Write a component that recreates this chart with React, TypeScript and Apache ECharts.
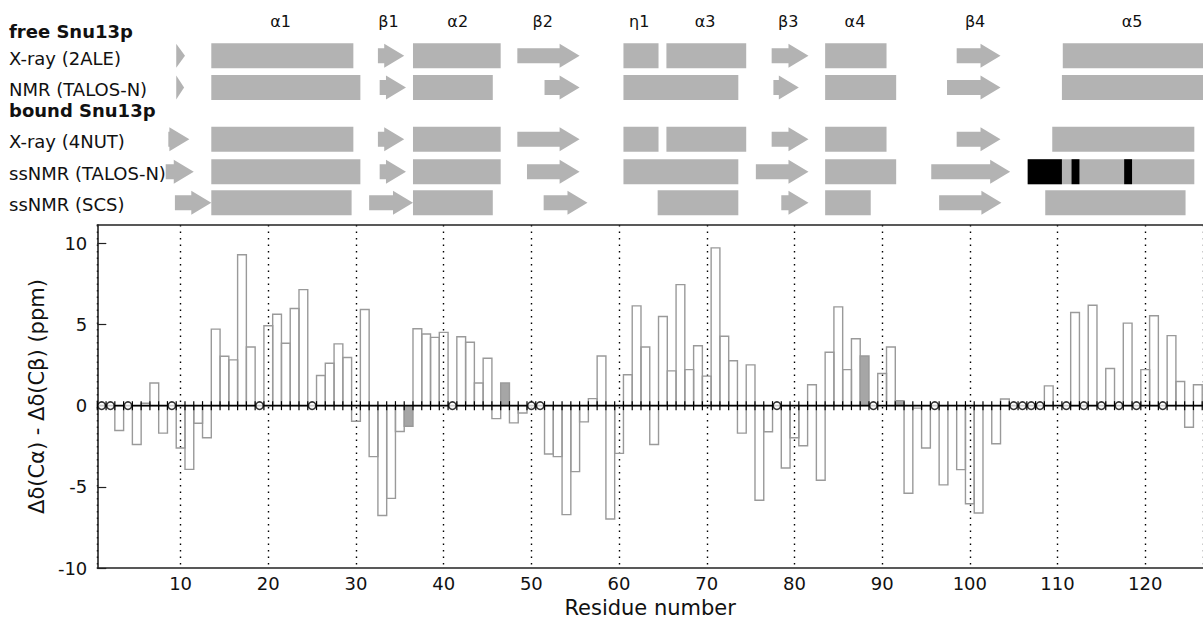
import React, { useEffect, useRef } from 'react';
import * as echarts from 'echarts';

const FONT = 'DejaVu Sans';

// Δδ(Cα) - Δδ(Cβ) in ppm for residues 1..126 (null = no bar)
const SHIFT_DIFF: (number | null)[] = [
  null, null, -1.53, null, -2.39, 0.15, 1.39, -1.69, null, -2.61,
  -3.92, -1.08, -1.98, 4.71, 3.04, 2.82, 9.29, 3.61, null, 4.92,
  5.63, 3.84, 5.98, 7.14, null, 1.86, 2.61, 3.8, 2.96, -0.96,
  5.92, -3.14, -6.76, -5.71, -1.59, -1.27, 4.73, 4.41, 4.2, 4.51,
  null, 4.24, 3.9, 1.39, 2.92, -0.8, 1.39, -1.06, -0.45, null,
  null, -2.98, -3.14, -6.71, -4.06, -1.0, 0.43, 3.06, -6.98, -2.94,
  1.9, 6.14, 3.61, -2.39, 5.49, 2.14, 7.45, 2.22, 3.69, 1.82,
  9.71, 4.27, 2.76, -1.69, 2.51, -5.82, -1.61, null, -3.84, -1.98,
  -2.47, 1.29, -4.59, 3.29, 6.08, 2.22, 4.12, 3.06, null, 1.98,
  3.61, 0.31, -5.39, -0.15, -2.61, null, -4.88, null, -3.94, -6.04,
  -6.61, null, -2.35, 0.41, null, null, null, null, 1.22, null,
  null, 5.73, null, 6.18, null, 2.29, null, 5.08, null, 2.22,
  5.53, null, 4.31, 1.49, -1.33, 1.29,
];
const FIRST_RESIDUE = 1;

// residues drawn as open circles on the zero line
const UNASSIGNED = [1, 2, 4, 9, 19, 25, 41, 50, 51, 78, 89, 96, 105, 106, 107, 108, 111, 113, 115, 117, 119, 122];
// residues whose bars are filled grey
const FILLED = [36, 47, 88, 92];

const X_TICKS = [10, 20, 30, 40, 50, 60, 70, 80, 90, 100, 110, 120];
const Y_TICKS = [-10, -5, 0, 5, 10];
const X_MIN = 0.5;
const X_MAX = 126.59;
const Y_MIN = -10;
const Y_MAX = 11.12;

// secondary-structure rows
const SS_ROWS = ['X-ray (2ALE)', 'NMR (TALOS-N)', 'X-ray (4NUT)', 'ssNMR (TALOS-N)', 'ssNMR (SCS)'];
// [row, start residue, end residue]
const HELICES: [number, number, number][] = [
  [0, 13.5, 29.7], [0, 36.5, 46.5], [0, 60.5, 64.5], [0, 65.4, 74.5], [0, 83.5, 90.5], [0, 110.6, 126.8],
  [1, 13.5, 30.5], [1, 36.5, 45.6], [1, 60.5, 73.6], [1, 83.5, 91.6], [1, 110.5, 126.8],
  [2, 13.5, 29.7], [2, 36.5, 46.5], [2, 60.5, 64.5], [2, 65.4, 74.5], [2, 83.5, 90.5], [2, 109.4, 125.6],
  [3, 13.5, 30.5], [3, 36.5, 46.5], [3, 60.5, 73.6], [3, 83.5, 91.6], [3, 106.6, 125.6],
  [4, 13.5, 29.5], [4, 36.5, 45.6], [4, 64.4, 73.6], [4, 83.5, 88.7], [4, 108.6, 124.6],
];
const STRANDS: [number, number, number][] = [
  [0, 9.5, 10.5], [0, 32.5, 35.5], [0, 48.4, 55.5], [0, 77.4, 81.6], [0, 98.5, 103.5],
  [1, 9.5, 10.4], [1, 32.7, 35.7], [1, 51.5, 55.5], [1, 77.6, 80.5], [1, 97.4, 103.5],
  [2, 8.6, 11.0], [2, 32.5, 35.5], [2, 48.4, 55.5], [2, 77.4, 81.6], [2, 98.5, 103.5],
  [3, 8.3, 11.5], [3, 32.7, 35.7], [3, 49.5, 55.5], [3, 75.6, 81.6], [3, 95.6, 104.6],
  [4, 9.35, 13.5], [4, 31.5, 36.5], [4, 51.4, 56.4], [4, 78.5, 81.6], [4, 96.5, 103.6],
];
const HIGHLIGHTS: [number, number, number][] = [
  [3, 106.6, 110.5], [3, 111.6, 112.5], [3, 117.6, 118.5],
];
const SS_NAMES = ['α1', 'β1', 'α2', 'β2', 'η1', 'α3', 'β3', 'α4', 'β4', 'α5'];
const SS_NAME_POS = [21.4, 33.7, 41.6, 51.3, 62.3, 69.8, 79.3, 86.9, 100.6, 118.5];

// layout (pixels)
const ROW_Y = [55.8, 87.5, 139.2, 171.7, 202.8];
const LABEL_Y = [58.3, 89.7, 141.3, 173.3, 204];
const HEADER_LABELS: [string, number][] = [['free Snu13p', 31.7], ['bound Snu13p', 110.3]];

export default function App() {
  const ref = useRef<HTMLDivElement>(null);
  useEffect(() => {
    if (!ref.current) return;
    const chart = echarts.init(ref.current, undefined, { renderer: 'svg' });

    const barData: number[][] = [];
    SHIFT_DIFF.forEach((v, i) => {
      const r = FIRST_RESIDUE + i;
      if (v !== null) barData.push([r, v, FILLED.includes(r) ? 1 : 0]);
    });
    const tickData: number[][] = SHIFT_DIFF.map((_, i) => [FIRST_RESIDUE + i - 0.5, 0]);
    tickData.push([FIRST_RESIDUE + SHIFT_DIFF.length - 0.5, 0]);

    const ssData: number[][] = [
      ...HELICES.map((h) => [h[1], h[2], h[0], 0]),
      ...STRANDS.map((s) => [s[1], s[2], s[0], 1]),
      ...HIGHLIGHTS.map((s) => [s[1], s[2], s[0], 2]),
    ];

    const graphicTexts: any[] = [];
    HEADER_LABELS.forEach(([t, y]) => {
      graphicTexts.push({
        type: 'text', x: 9, y,
        style: { text: t, font: `bold 18px "${FONT}"`, fill: '#111', textVerticalAlign: 'middle', verticalAlign: 'middle' },
      });
    });
    SS_ROWS.forEach((t, i) => {
      graphicTexts.push({
        type: 'text', x: 9, y: LABEL_Y[i],
        style: { text: t, font: `18px "${FONT}"`, fill: '#111', textVerticalAlign: 'middle', verticalAlign: 'middle' },
      });
    });

    const option: any = {
      animation: false,
      textStyle: { fontFamily: FONT },
      graphic: graphicTexts,
      grid: { left: 97.3, top: 225, right: 0, bottom: 52.3, containLabel: false },
      xAxis: [
        {
          type: 'value', min: X_MIN, max: X_MAX, splitNumber: 12, minInterval: 10, maxInterval: 10,
          position: 'bottom',
          axisLine: { onZero: false, lineStyle: { color: '#222', width: 1.6 } },
          axisTick: { show: false },
          axisLabel: {
            fontSize: 18, color: '#111', margin: 6, fontFamily: FONT,
            showMinLabel: false, showMaxLabel: false,
            formatter: (v: number) => (X_TICKS.includes(v) ? String(v) : ''),
          },
          splitLine: { show: true, lineStyle: { color: '#000', type: [1.5, 5], width: 1.4 } },
          name: 'Residue number', nameLocation: 'middle', nameGap: 26,
          nameTextStyle: { fontSize: 21, color: '#111', fontFamily: FONT },
        },
        {
          type: 'value', min: X_MIN, max: X_MAX, position: 'top',
          axisLine: { onZero: false, lineStyle: { color: '#222', width: 1.6 } },
          axisTick: { show: false }, axisLabel: { show: false }, splitLine: { show: false },
        },
      ],
      yAxis: {
        type: 'value', min: Y_MIN, max: Y_MAX, interval: 5,
        axisLine: { show: true, onZero: false, lineStyle: { color: '#222', width: 1.6 } },
        axisTick: { show: true, inside: true, length: 9, lineStyle: { color: '#222', width: 1.2 } },
        axisLabel: {
          fontSize: 18, color: '#111', margin: 10, fontFamily: FONT, showMaxLabel: false,
          formatter: (v: number) => (Y_TICKS.includes(v) ? String(v) : ''),
        },
        splitLine: { show: false },
        name: 'Δδ(Cα) - Δδ(Cβ) (ppm)', nameLocation: 'middle', nameGap: 41,
        nameTextStyle: { fontSize: 21, color: '#111', fontFamily: FONT },
      },
      series: [
        {
          type: 'custom', name: 'bars', data: barData, clip: false, z: 2,
          encode: { x: 0, y: 1 },
          renderItem: (params: any, api: any) => {
            const r = api.value(0);
            const v = api.value(1);
            const filled = api.value(2) === 1;
            const p0 = api.coord([r - 0.5, 0]);
            const p1 = api.coord([r + 0.5, v]);
            return {
              type: 'rect',
              shape: { x: p0[0], y: Math.min(p0[1], p1[1]), width: p1[0] - p0[0], height: Math.abs(p1[1] - p0[1]) },
              style: { fill: filled ? '#a6a6a6' : 'none', stroke: '#9a9a9a', lineWidth: 1.4 },
            };
          },
        },
        {
          type: 'line', name: 'zero', data: [[X_MIN, 0], [X_MAX, 0]], symbol: 'none', z: 3,
          lineStyle: { color: '#000', width: 1.6 }, silent: true,
        },
        {
          type: 'custom', name: 'ticks', data: tickData, z: 4, encode: { x: 0, y: 1 },
          renderItem: (params: any, api: any) => {
            const p = api.coord([api.value(0), 0]);
            return {
              type: 'line',
              shape: { x1: p[0], y1: p[1] - 4.5, x2: p[0], y2: p[1] + 4.5 },
              style: { stroke: '#000', lineWidth: 1.2 },
            };
          },
        },
        {
          type: 'scatter', name: 'unassigned', data: UNASSIGNED.map((r) => [r, 0]), z: 5,
          symbol: 'circle', symbolSize: 7.5,
          itemStyle: { color: '#fff', borderColor: '#000', borderWidth: 1.6 },
        },
        {
          type: 'custom', name: 'structure', data: ssData, clip: false, z: 2,
          encode: { x: [0, 1], y: 2 },
          renderItem: (params: any, api: any) => {
            const s = api.value(0);
            const e = api.value(1);
            const row = api.value(2);
            const kind = api.value(3);
            const xs = api.coord([s, 0])[0];
            const xe = api.coord([e, 0])[0];
            const yc = ROW_Y[row];
            if (kind === 1) {
              const len = xe - xs;
              const head = Math.min(20, len);
              const hb = xe - head;
              return {
                type: 'polygon',
                shape: {
                  points: [
                    [xs, yc - 7.5], [hb, yc - 7.5], [hb, yc - 12], [xe, yc],
                    [hb, yc + 12], [hb, yc + 7.5], [xs, yc + 7.5],
                  ],
                },
                style: { fill: '#b3b3b3' },
              };
            }
            return {
              type: 'rect',
              shape: { x: xs, y: yc - 12.5, width: xe - xs, height: 25 },
              style: { fill: kind === 2 ? '#000' : '#b3b3b3' },
              z2: kind === 2 ? 2 : 1,
            };
          },
        },
        {
          type: 'custom', name: 'ssnames', data: SS_NAME_POS.map((p) => [p, 0]), clip: false, z: 2,
          encode: { x: 0, y: 1 },
          renderItem: (params: any, api: any) => {
            const x = api.coord([api.value(0), 0])[0];
            return {
              type: 'text', x, y: 21,
              style: {
                text: SS_NAMES[params.dataIndex], font: `16px "${FONT}"`, fill: '#111',
                align: 'center', verticalAlign: 'middle', textAlign: 'center', textVerticalAlign: 'middle',
              },
            };
          },
        },
      ],
    };
    chart.setOption(option);
    return () => chart.dispose();
  }, []);
  return <div ref={ref} style={{ position: 'fixed', left: 0, top: 0, width: 1203, height: 623, background: '#fff' }} />;
}
